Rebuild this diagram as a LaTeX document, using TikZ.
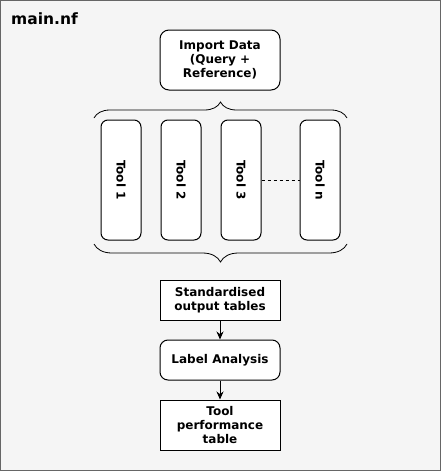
\documentclass[tikz,border=0pt]{standalone}
\usepackage{fontspec}
\setmainfont{DejaVu Sans}
\usetikzlibrary{decorations.pathreplacing,arrows.meta}
\definecolor{bgcol}{HTML}{F5F5F5}
\definecolor{framecol}{HTML}{666666}
\tikzset{
  boxbase/.style={draw=black, fill=white, line width=1pt, inner sep=0pt, align=center,
    font=\fontsize{12}{14}\selectfont\bfseries, text=black},
  roundbox/.style={boxbase, rounded corners=9pt},
  squarebox/.style={boxbase},
  toolbox/.style={boxbase, rounded corners=7pt, minimum width=40pt, minimum height=120pt},
  bracestyle/.style={draw=black, line width=0.8pt},
  flow/.style={draw=black, line width=1pt, -{Stealth[length=8pt,width=7pt]}},
}
\begin{document}
\begin{tikzpicture}[x=1pt,y=-1pt]
\useasboundingbox (0,0) rectangle (441,471);
\draw[fill=bgcol, draw=framecol, line width=1pt] (0.5,0.5) rectangle (440.5,470.5);
\node[anchor=north west, inner sep=0pt, font=\fontsize{15.5}{17}\selectfont\bfseries] (title) at (11,13) {main.nf};
\node[roundbox, minimum width=120pt, minimum height=60pt] (import) at (220,60) {Import Data\\(Query +\\Reference)};
\node[toolbox] (t1) at (121,180) {\rotatebox{-90}{Tool 1}};
\node[toolbox] (t2) at (181,180) {\rotatebox{-90}{Tool 2}};
\node[toolbox] (t3) at (241,180) {\rotatebox{-90}{Tool 3}};
\node[toolbox] (tn) at (320,180) {\rotatebox{-90}{Tool n}};
\draw[dashed, line width=0.8pt] (t3.east) -- (tn.west);
\coordinate (bl1) at (94,118);
\coordinate (br1) at (347,118);
\coordinate (bl2) at (94,244);
\coordinate (br2) at (347,244);
\draw[bracestyle, decorate, decoration={brace, amplitude=16pt}] (bl1) -- (br1);
\draw[bracestyle, decorate, decoration={brace, mirror, amplitude=18pt}] (bl2) -- (br2);
\node[squarebox, minimum width=120pt, minimum height=40pt] (std) at (220,300) {Standardised\\output tables};
\node[roundbox, rounded corners=8pt, minimum width=120pt, minimum height=40pt] (label) at (220,360) {Label Analysis};
\node[squarebox, minimum width=120pt, minimum height=50pt] (perf) at (220,425) {Tool\\performance\\table};
\draw[flow] (std) -- (label);
\draw[flow] (label) -- (perf);
\end{tikzpicture}
\end{document}
